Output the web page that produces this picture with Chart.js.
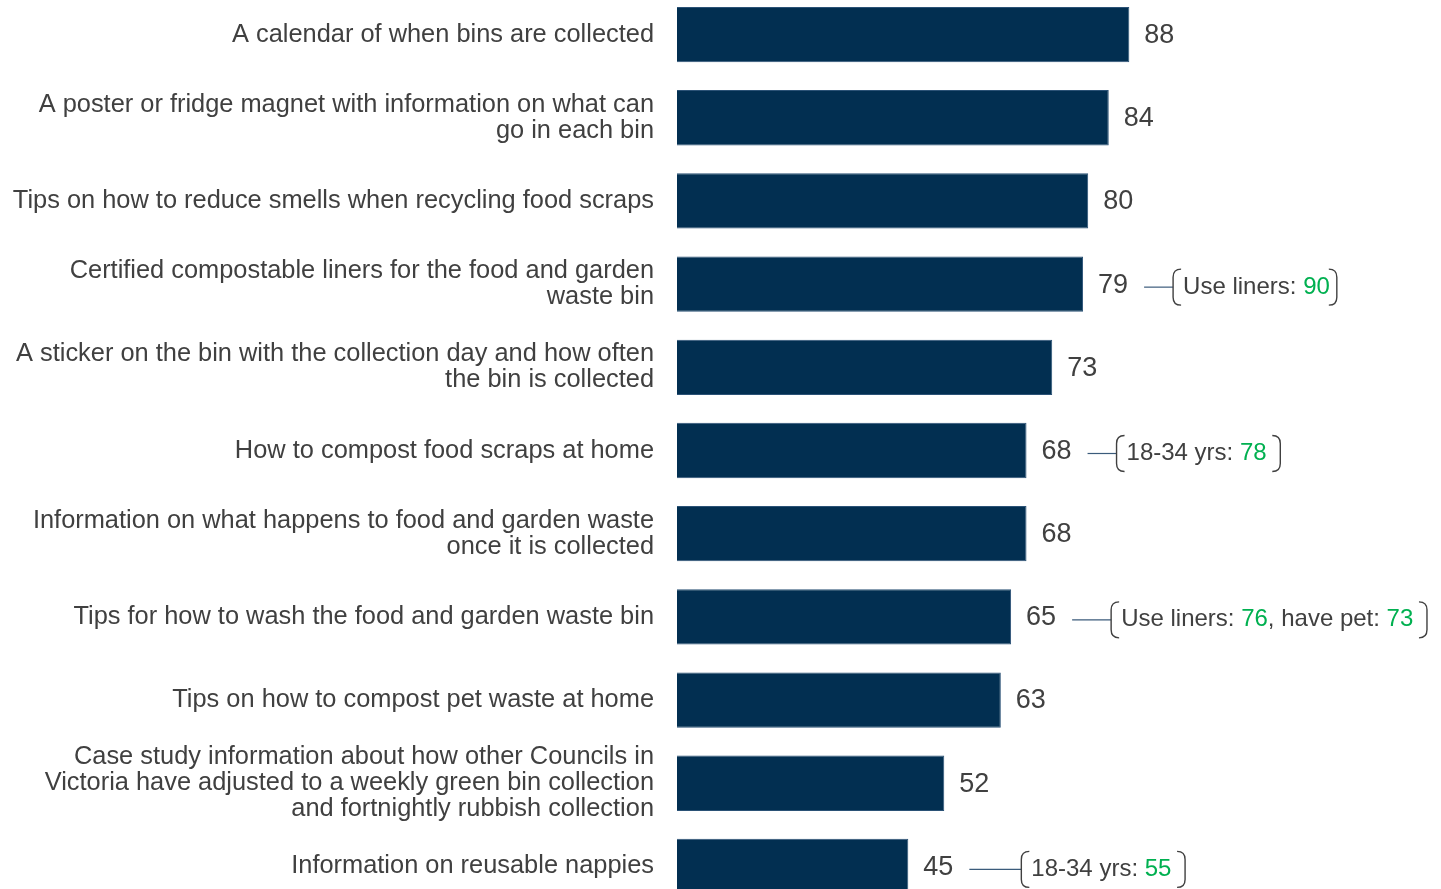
<!DOCTYPE html>
<html>
<head>
<meta charset="utf-8">
<script src="https://cdn.jsdelivr.net/npm/chart.js@4/dist/chart.umd.min.js"></script>
<style>
	html, body { margin: 0; padding: 0; background: #fff; overflow: hidden; }
	#wrap { position: relative; width: 1441px; height: 889px; overflow: hidden; }
	#chart { position: absolute; left: 0; top: -8px; }
</style>
</head>
<body>
<div id="wrap"><canvas id="chart" width="1441" height="920"></canvas></div>
<script>
// --- Data ---
const categories = [
	"A calendar of when bins are collected",
	["A poster or fridge magnet with information on what can", "go in each bin"],
	"Tips on how to reduce smells when recycling food scraps",
	["Certified compostable liners for the food and garden", "waste bin"],
	["A sticker on the bin with the collection day and how often", "the bin is collected"],
	"How to compost food scraps at home",
	["Information on what happens to food and garden waste", "once it is collected"],
	"Tips for how to wash the food and garden waste bin",
	"Tips on how to compost pet waste at home",
	["Case study information about how other Councils in", "Victoria have adjusted to a weekly green bin collection", "and fortnightly rubbish collection"],
	"Information on reusable nappies",
];
const values = [88, 84, 80, 79, 73, 68, 68, 65, 63, 52, 45];

// subgroup callouts: strings are grey text, numbers are green values
const callouts = [
	null,
	null,
	null,
	["Use liners: ", 90],
	null,
	["18-34 yrs: ", 78, " "],
	null,
	["Use liners: ", 76, ", have pet: ", 73, " "],
	null,
	null,
	["18-34 yrs: ", 55, " "],
];

// --- Styles ---
const NAVY = "#022f51";
const GREY = "#404040";
const GREEN = "#00b050";
const FONT = "'Liberation Sans', Arial, sans-serif";
const connectorLengths = [0, 0, 0, 29, 0, 29, 0, 39, 0, 0, 52];

// value labels + bracketed callouts to the right of each bar
const valueLabels = {
	id: "valueLabels",
	afterDatasetsDraw(chart) {
		const ctx = chart.ctx;
		const meta = chart.getDatasetMeta(0);
		ctx.save();
		meta.data.forEach((bar, i) => {
			const y = bar.y;
			ctx.font = "27px " + FONT;
			ctx.fillStyle = GREY;
			ctx.textAlign = "left";
			ctx.textBaseline = "middle";
			const vx = bar.x + 15;
			ctx.fillText(String(values[i]), vx, y + 1);
			const vEnd = vx + ctx.measureText(String(values[i])).width;

			const parts = callouts[i];
			if (!parts) return;
			const ay = y + 3;
			const lineStart = vEnd + 16;
			const bx = lineStart + connectorLengths[i];

			// connector
			ctx.strokeStyle = "#3b5b7b";
			ctx.lineWidth = 1.2;
			ctx.beginPath();
			ctx.moveTo(lineStart, ay);
			ctx.lineTo(bx, ay);
			ctx.stroke();

			// text segments
			ctx.font = "24px " + FONT;
			let tx = bx + 10;
			parts.forEach((p) => {
				const s = String(p);
				ctx.fillStyle = typeof p === "number" ? GREEN : GREY;
				ctx.fillText(s, tx, ay);
				tx += ctx.measureText(s).width;
			});
			const rx = tx + 7;

			// brackets
			const top = ay - 18, bot = ay + 18, r = 8;
			ctx.strokeStyle = GREY;
			ctx.lineWidth = 1.4;
			ctx.beginPath();
			ctx.moveTo(bx + r, top);
			ctx.quadraticCurveTo(bx, top, bx, top + r);
			ctx.lineTo(bx, bot - r);
			ctx.quadraticCurveTo(bx, bot, bx + r, bot);
			ctx.stroke();
			ctx.beginPath();
			ctx.moveTo(rx - r, top);
			ctx.quadraticCurveTo(rx, top, rx, top + r);
			ctx.lineTo(rx, bot - r);
			ctx.quadraticCurveTo(rx, bot, rx - r, bot);
			ctx.stroke();
		});
		ctx.restore();
	},
};

new Chart(document.getElementById("chart"), {
	type: "bar",
	data: {
		labels: categories,
		datasets: [
			{
				data: values,
				backgroundColor: NAVY,
				borderColor: "#2b5276",
				borderWidth: 1,
				barPercentage: 0.665,
				categoryPercentage: 1,
			},
		],
	},
	options: {
		indexAxis: "y",
		responsive: false,
		animation: false,
		layout: { padding: { top: 1, bottom: 4, left: 0, right: 250 } },
		plugins: {
			legend: { display: false },
			tooltip: { enabled: false },
		},
		scales: {
			x: { display: false, min: 0, max: 100 },
			y: {
				afterFit: (scale) => {
					scale.width = 677;
					scale.paddingTop = 0;
					scale.paddingBottom = 0;
				},
				grid: { display: false, drawTicks: false },
				border: { display: false },
				ticks: {
					padding: 23,
					color: GREY,
					font: { family: FONT, size: 25.4, lineHeight: 1.03 },
				},
			},
		},
	},
	plugins: [valueLabels],
});
</script>
</body>
</html>
